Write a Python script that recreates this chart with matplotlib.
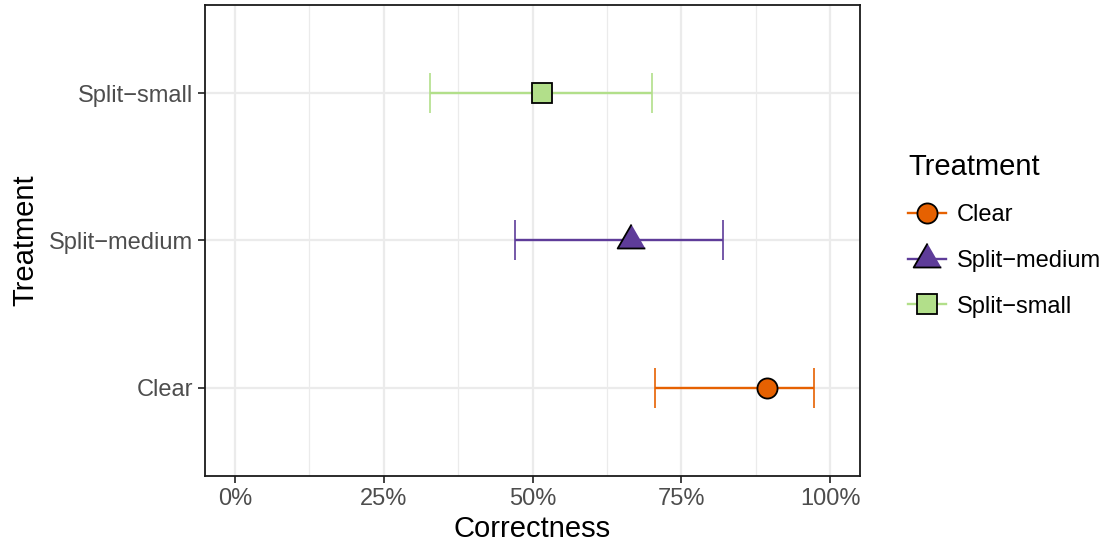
import matplotlib
matplotlib.use("Agg")
import matplotlib.pyplot as plt
from matplotlib.lines import Line2D
import numpy as np

plt.rcParams['font.family'] = ['Liberation Sans', 'DejaVu Sans']

treatments = ["Clear", "Split\u2212medium", "Split\u2212small"]
correct = [0.893, 0.666, 0.516]
lower = [0.706, 0.470, 0.328]
upper = [0.972, 0.820, 0.701]
colors = ["#e66101", "#5e3c99", "#b2df8a"]

tri = [(0, 0.577), (-0.5, -0.289), (0.5, -0.289)]
markers = ["o", tri, "s"]
msizes = [14.5, 23, 15]

fig = plt.figure(figsize=(11.06, 5.47), dpi=100)
ax = fig.add_axes([0.1854, 0.1298, 0.7776 - 0.1854, 0.9909 - 0.1298])

ypos = np.arange(1, len(treatments) + 1)

ax.set_xlim(-0.05, 1.05)
ax.set_ylim(0.4, 3.6)
ax.set_xticks([0, 0.25, 0.5, 0.75, 1.0])
ax.set_xticklabels(["0%", "25%", "50%", "75%", "100%"])
ax.set_xticks([0.125, 0.375, 0.625, 0.875], minor=True)
ax.set_yticks(ypos)
ax.set_yticklabels(treatments)

ax.grid(True, which="major", color="#ebebeb", lw=1.6, zorder=0)
ax.grid(True, which="minor", axis="x", color="#ebebeb", lw=0.9, zorder=0)
ax.set_axisbelow(True)

for i in range(len(treatments)):
    ax.errorbar(correct[i], ypos[i],
                xerr=[[correct[i] - lower[i]], [upper[i] - correct[i]]],
                fmt="none", ecolor=colors[i], elinewidth=1.7, capsize=14.5,
                capthick=1.2, zorder=2)
    ax.plot(correct[i], ypos[i], marker=markers[i], ms=msizes[i],
            mfc=colors[i], mec="black", mew=1.3, ls="none", zorder=3)

for sp in ax.spines.values():
    sp.set_color("#1a1a1a")
    sp.set_linewidth(1.3)

ax.tick_params(axis="both", which="major", labelsize=17, labelcolor="#4d4d4d",
               color="#333333", length=5, width=1.3)
ax.tick_params(axis="both", which="minor", length=0)
ax.set_xlabel("Correctness", fontsize=21, labelpad=4)
ax.set_ylabel("Treatment", fontsize=21, labelpad=7)

handles = []
for i in range(len(treatments)):
    handles.append(Line2D([0], [0], color=colors[i], lw=1.7, marker=markers[i],
                          ms=msizes[i], mfc=colors[i], mec="black", mew=1.3))
leg = fig.legend(handles, treatments, title="Treatment", loc="center left",
                 bbox_to_anchor=(0.8128, 0.57), frameon=False, fontsize=17,
                 title_fontsize=21, handlelength=1.6, handletextpad=0.45,
                 labelspacing=1.0, borderaxespad=0)
leg._legend_box.align = "left"

fig.savefig("out.png", dpi=100)
